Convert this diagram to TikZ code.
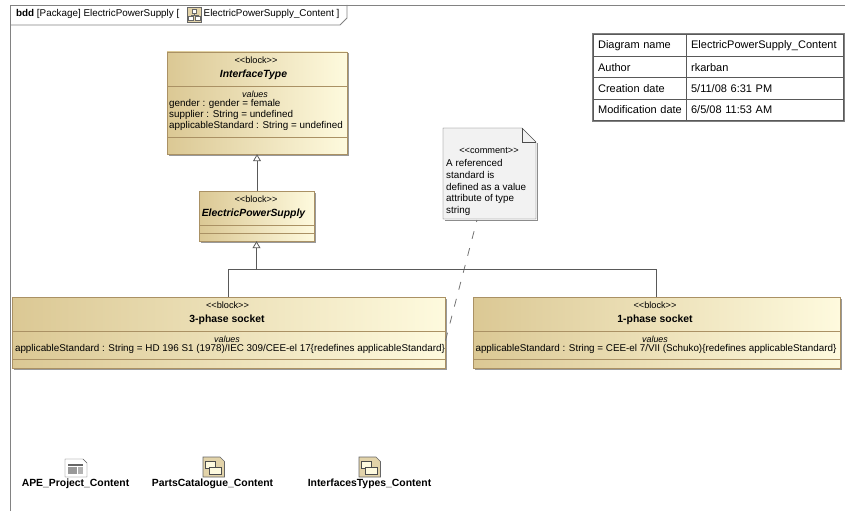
\documentclass[tikz,border=0pt]{standalone}
\usepackage{fontspec}
\setmainfont{Liberation Sans}
\usetikzlibrary{positioning}
\usetikzlibrary{arrows.meta}
\usetikzlibrary{shadows}
\definecolor{blockdark}{RGB}{219,200,148}
\definecolor{blocklight}{RGB}{254,250,222}
\definecolor{blockline}{RGB}{170,145,100}
\definecolor{framegray}{RGB}{130,130,130}
\definecolor{notegray}{RGB}{242,242,242}

\begin{document}
\begin{tikzpicture} [
   x=1pt, y=-1pt,
   node distance=0pt,    % Cells of the table touch
   ]
% -------------------------------------------------
\tikzset{
  block/.style={draw=blockline, left color=blockdark, right color=blocklight, inner sep=0pt,
    drop shadow={shadow xshift=1.5pt, shadow yshift=-1.5pt, fill=black!40, opacity=1}},
  txt/.style={inner sep=0pt, font=\fontsize{9.85}{11}\selectfont},
  stereo/.style={txt, font=\fontsize{9.2}{11}\selectfont},
  title/.style={txt, font=\fontsize{10.4}{12}\selectfont\bfseries},
  abstract/.style={txt, font=\fontsize{10.4}{12}\selectfont\bfseries\itshape},
  compart/.style={txt, font=\fontsize{8.9}{10}\selectfont\itshape},
  cell/.style={draw=black!65, line width=1pt, outer sep=0pt, inner ysep=0pt, minimum height=21.4pt,
    anchor=north west, align=left, font=\fontsize{11}{13}\selectfont},
  cellkey/.style={cell, inner xsep=4.5pt, text width=84pt, minimum width=93.2pt},
  cellval/.style={cell, inner xsep=4pt, text width=148pt, minimum width=156.8pt},
  gen/.style={draw=black!65, thick, -{Triangle[open, fill=white, length=7pt, width=8pt]}},
  line/.style={draw=black!65, thick},
  sepline/.style={draw=blockline, semithick},
  dashline/.style={draw=black!55, thick, dash pattern=on 8pt off 9.5pt, dash phase=6pt},
  pack/.style={txt, font=\fontsize{10.4}{12}\selectfont\bfseries},
  icon/.style={draw=black!60, fill=blockdark!80, line width=.6pt}
}
    \useasboundingbox (0,0) rectangle (845,511);

    \draw[framegray, thick] (10,511) -- (10,5) -- (845,5);               % frame: left and top
    \draw[framegray, thick] (10,25) -- (340,25) -- (347,18) -- (347,5);  % frame: name tab

    \node [txt, anchor=west] (bdd) at (16,13.5) {\textbf{bdd} [Package] ElectricPowerSupply [};
    \node [txt, anchor=west] (dgm) at (203.5,13.5) {ElectricPowerSupply\_Content ]};

    \draw[icon] (187,7.5) rectangle (201.5,22);                          % tab icon
    \draw[black!60, fill=white] (192,9.5) rectangle (196.5,13);
    \draw[black!60, fill=white] (188.5,16.5) rectangle (193,20.5);
    \draw[black!60, fill=white] (195.5,16.5) rectangle (200,20.5);
    \draw[black!60] (194.2,13) -- (194.2,15) (190.7,16.5) -- (190.7,15) -- (197.7,15) -- (197.7,16.5);

    % blocks
    \node [block, minimum width=180pt, minimum height=102pt] (ifc) at (257,103) {};
    \node [block, minimum width=115pt, minimum height=50pt] (eps) at (256.5,216) {};
    \node [block, minimum width=433pt, minimum height=71pt] (tri) at (228.5,332.5) {};
    \node [block, minimum width=367pt, minimum height=71pt] (one) at (656.5,332.5) {};

    \draw[sepline] (167,86) -- (347,86);                                 % interface type compartments
    \draw[sepline] (167,137) -- (347,137);
    \draw[sepline] (199,225) -- (314,225);                               % power supply compartments
    \draw[sepline] (199,233) -- (314,233);
    \draw[sepline] (12,331) -- (445,331);                                % 3-phase compartments
    \draw[sepline] (12,359) -- (445,359);
    \draw[sepline] (473,331) -- (840,331);                               % 1-phase compartments
    \draw[sepline] (473,359) -- (840,359);

    \node [stereo] (ifcs) at (256,60.5) {<{}<block>{}>};
    \node [abstract] (ifcn) at (253.5,75) {InterfaceType};
    \node [compart] (ifcv) at (255,94) {values};
    \node [txt, anchor=west] (ifc1) at (169,103.5) {gender : gender = female};
    \node [txt, anchor=west] (ifc2) at (169,114.5) {supplier : String = undefined};
    \node [txt, anchor=west] (ifc3) at (169,125.5) {applicableStandard : String = undefined};

    \node [stereo] (epss) at (256,199.5) {<{}<block>{}>};
    \node [abstract] (epsn) at (253.5,214) {ElectricPowerSupply};

    \node [stereo] (tris) at (227.5,305.5) {<{}<block>{}>};
    \node [title] (trin) at (227,319.5) {3-phase socket};
    \node [compart] (triv) at (227,339) {values};
    \node [txt] (tri1) at (230,348.5) {applicableStandard : String = HD 196 S1 (1978)/IEC 309/CEE-el 17\{redefines applicableStandard\}};

    \node [stereo] (ones) at (655,305.5) {<{}<block>{}>};
    \node [title] (onen) at (655,319.5) {1-phase socket};
    \node [compart] (onev) at (655,339) {values};
    \node [txt] (one1) at (656,348.5) {applicableStandard : String = CEE-el 7/VII (Schuko)\{redefines applicableStandard\}};

    % table
    \node [cellkey] (nam) at (593.5,35) {Diagram name};
    \node [cellval, right=of nam.north east, anchor=north west] (namv) {ElectricPowerSupply\_Content};
    \node [cellkey, below=of nam.south west, anchor=north west] (aut) {Author};
    \node [cellval, right=of aut.north east, anchor=north west] (autv) {rkarban};
    \node [cellkey, below=of aut.south west, anchor=north west] (cre) {Creation date};
    \node [cellval, right=of cre.north east, anchor=north west] (crev) {5/11/08 6:31 PM};
    \node [cellkey, below=of cre.south west, anchor=north west] (mod) {Modification date};
    \node [cellval, right=of mod.north east, anchor=north west] (modv) {6/5/08 11:53 AM};
    \draw[black!50, line width=1pt] (592.3,33.5) rectangle (844.5,121.5);

    % comment
    \draw[black!45, line width=1.5pt] (445,220.5) -- (537.5,220.5) -- (537.5,143);
    \draw[black!70, fill=notegray] (443,128) -- (522,128) -- (536,142) -- (536,219) -- (443,219) -- cycle;
    \draw[black!70] (522,128) -- (522,142) -- (536,142);
    \node [stereo] (cmts) at (489,151) {<{}<comment>{}>};
    \node [txt, anchor=north west, align=left, font=\fontsize{9.85}{11.67}\selectfont] (cmt) at (446,159.5) {A referenced\\standard is\\defined as a value\\attribute of type\\string};
    \coordinate (cmtb) at (477,220);
    \coordinate (cmte) at (443,350);
    \path [dashline] (cmtb) -- (cmte);

    % generalizations
    \coordinate (bus) at (256.5,269);
    \path [gen] (eps.north -| ifc.south) -- (ifc.south);
    \path [line] (tri.north) |- (bus);
    \path [line] (one.north) |- (bus);
    \path [gen] (bus) -- (eps.south);

    % contained elements
    \node [pack] (ape) at (75.5,484) {APE\_Project\_Content};
    \node [pack] (prt) at (212.5,484) {PartsCatalogue\_Content};
    \node [pack] (itf) at (369.5,484) {InterfacesTypes\_Content};

    \draw[black!65, fill=white] (65,459) -- (83,459) -- (87,463) -- (87,477) -- (65,477) -- cycle;  % APE icon
    \fill[black!60] (68,464) rectangle (83,466);
    \fill[black!40] (68,467) rectangle (77,474);
    \fill[black!30] (78,467) rectangle (83,474);

    \draw[icon] (203,457) -- (220,457) -- (224.5,461.5) -- (224.5,477) -- (203,477) -- cycle;  % parts icon
    \draw[black!70, fill=blocklight] (205.5,461) rectangle (215,468);
    \draw[black!70, fill=blocklight] (209,467) rectangle (221,474);
    \draw[icon] (359,457) -- (376,457) -- (380.5,461.5) -- (380.5,477) -- (359,477) -- cycle;  % interfaces icon
    \draw[black!70, fill=blocklight] (361.5,461) rectangle (371,468);
    \draw[black!70, fill=blocklight] (365,467) rectangle (377,474);

\end{tikzpicture}
\end{document}
